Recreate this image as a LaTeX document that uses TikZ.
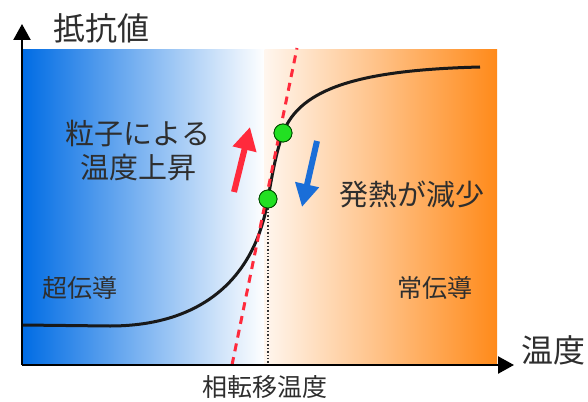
\documentclass[tikz,border=0pt]{standalone}
\usepackage{fontspec}
\newfontfamily\jp{Noto Sans CJK JP}
\usetikzlibrary{arrows.meta}
\definecolor{gblue}{HTML}{006CE4}
\definecolor{gorange}{HTML}{FF8A1A}
\definecolor{gpale}{HTML}{FFF6EE}
\definecolor{txtgray}{HTML}{2E2E2E}
\definecolor{redarr}{HTML}{FF2A3C}
\definecolor{bluearr}{HTML}{1A6ED8}
\definecolor{dotgreen}{HTML}{22E022}
\begin{document}
\begin{tikzpicture}[x=1pt,y=-1pt,
  lbl/.style={text=txtgray, inner sep=0pt, font=\jp\fontsize{25}{30}\selectfont},
  biglbl/.style={text=txtgray, inner sep=0pt, align=center, font=\jp\fontsize{29}{34}\selectfont},
  axlbl/.style={text=txtgray, inner sep=0pt, font=\jp\fontsize{32}{36}\selectfont},
  axisline/.style={line width=2.4pt, -{Triangle[length=16pt,width=17pt]}},
  gdot/.style={circle, fill=dotgreen, draw=black!70!green, line width=0.8pt, minimum size=18pt, inner sep=0pt},
  curveline/.style={line width=3pt, black!90},
  reddash/.style={draw=redarr, line width=3pt, dash pattern=on 8pt off 6pt},
  bigarrow/.style={line width=6pt, -{Triangle[length=23pt,width=23pt]}}
]
\useasboundingbox (0,0) rectangle (588,401);
% background gradient
\shade[left color=gblue, right color=white] (22,50) rectangle (265,365);
\shade[left color=gpale, right color=gorange] (264.5,50) rectangle (497,365);
% named points
\coordinate (O) at (22,365);
\coordinate (ytip) at (22,24);
\coordinate (xtip) at (514,365);
\coordinate (xb) at (268,365);
\coordinate (rdtop) at (297,48);
\coordinate (rdbot) at (232,365);
\node[gdot] (d1) at (268,199) {};
\node[gdot] (d2) at (283,133) {};
% dotted transition line
\draw[line width=1.4pt, dotted, black!80] (d1.south) -- (xb);
% curve
\draw[curveline] (O |- 0,325) -- (110,326)
  .. controls (200,326) and (255,280) .. (d1.center)
  .. controls (273,169) and (277,150) .. (d2.center)
  .. controls (300,88) and (360,70) .. (480,67);
% red dashed tangent
\draw[reddash] (rdbot) -- (rdtop);
% axes
\draw[axisline] (O) -- (ytip);
\draw[axisline] (O) -- (xtip);
% redraw dots on top
\node[gdot] at (d1) {};
\node[gdot] at (d2) {};
% arrows
\coordinate (ra1) at (234,192);
\coordinate (ra2) at (250,127);
\coordinate (ba1) at (317,141);
\coordinate (ba2) at (302,207);
\draw[bigarrow, redarr] (ra1) -- (ra2);
\draw[bigarrow, bluearr] (ba1) -- (ba2);
% labels
\node[axlbl] (ylab) at (101,28) {抵抗値};
\node[axlbl, anchor=west] (xlab) at (521,350) {温度};
\node[biglbl] (heat) at (138,151) {粒子による\\温度上昇};
\node[biglbl] (less) at (412,194) {発熱が減少};
\node[lbl] (sc) at (80,288) {超伝導};
\node[lbl] (nc) at (435,288) {常伝導};
\node[lbl] (tc) at (265,387) {相転移温度};
\end{tikzpicture}
\end{document}
